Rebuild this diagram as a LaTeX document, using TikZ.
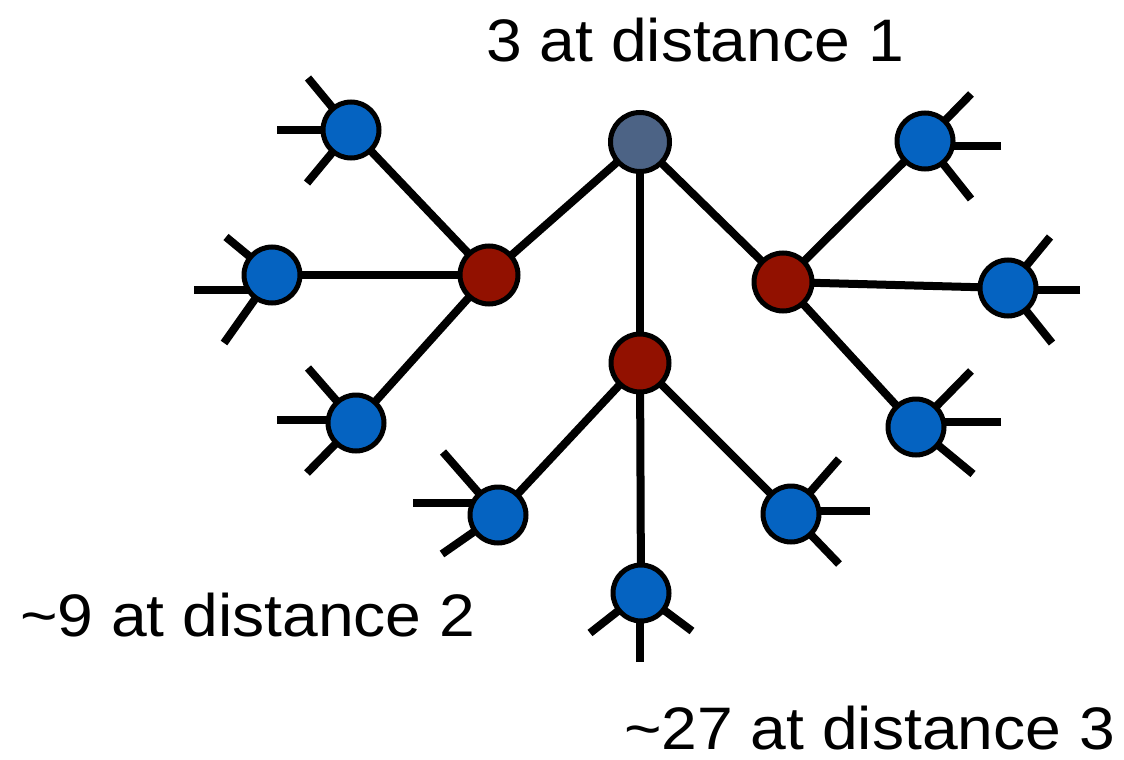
\documentclass[tikz,border=0pt]{standalone}
\usepackage{fontspec}
\setmainfont{Liberation Sans}
\usetikzlibrary{backgrounds}

\definecolor{rootgray}{RGB}{76,99,133}
\definecolor{hopred}{RGB}{146,17,0}
\definecolor{leafblue}{RGB}{5,99,193}

\tikzset{
  vtx/.style={circle, draw=black, line width=5pt, inner sep=0pt},
  rootvtx/.style={vtx, fill=rootgray, minimum size=59pt},
  hopvtx/.style={vtx, fill=hopred, minimum size=58pt},
  leafvtx/.style={vtx, fill=leafblue, minimum size=56pt},
  link/.style={line width=8pt},
  stub/.style={line width=8pt},
  lbl/.style={anchor=base west, inner sep=0pt, xscale=1.07, font=\fontsize{60}{72}\selectfont},
}

\begin{document}
\begin{tikzpicture}[x=1pt,y=1pt,yscale=-1,xscale=1]
\useasboundingbox (0,0) rectangle (1124,760);

%Shape: root, distance 1 and distance 2 vertices
\node[rootvtx] (r) at (640,142) {};
\node[hopvtx] (h1) at (489,275) {};
\node[hopvtx] (h2) at (640,363) {};
\node[hopvtx] (h3) at (783,282) {};
\node[leafvtx] (l1) at (351,130) {};
\node[leafvtx] (l2) at (272,275) {};
\node[leafvtx] (l3) at (356,423) {};
\node[leafvtx] (l4) at (498,515) {};
\node[leafvtx] (l5) at (641,593) {};
\node[leafvtx] (l6) at (791,514) {};
\node[leafvtx] (l7) at (925,141) {};
\node[leafvtx] (l8) at (1008,288) {};
\node[leafvtx] (l9) at (916,427) {};

%free ends of the stubs (u = upper, h = straight, d = lower)
\coordinate (l1u) at (308,78);
\coordinate (l1h) at (277,130);
\coordinate (l1d) at (307,183);
\coordinate (l2u) at (226,237);
\coordinate (l2h) at (194,290);
\coordinate (l2d) at (224,343);
\coordinate (l3u) at (308,368);
\coordinate (l3h) at (277,420);
\coordinate (l3d) at (307,473);
\coordinate (l4u) at (443,452);
\coordinate (l4h) at (413,503);
\coordinate (l4d) at (442,554);
\coordinate (l5u) at (590,633);
\coordinate (l5h) at (640,662);
\coordinate (l5d) at (692,631);
\coordinate (l6u) at (839,459);
\coordinate (l6h) at (870,511);
\coordinate (l6d) at (839,564);
\coordinate (l7u) at (971,94);
\coordinate (l7h) at (1001,146);
\coordinate (l7d) at (971,199);
\coordinate (l8u) at (1050,237);
\coordinate (l8h) at (1080,290);
\coordinate (l8d) at (1052,343);
\coordinate (l9u) at (971,371);
\coordinate (l9h) at (1001,422);
\coordinate (l9d) at (973,474);

\begin{scope}[on background layer]
%Straight Lines: tree edges
\foreach \a/\b in {r/h1,r/h2,r/h3,h1/l1,h1/l2,h1/l3,h2/l4,h2/l5,h2/l6,h3/l7,h3/l8,h3/l9}
  \draw[link] (\a.center) -- (\b.center);
%Straight Lines: stubs
\foreach \l in {l1,l2,l3,l4,l6,l7,l8,l9}{
  \draw[stub] (\l u) -- (\l.center);
  \draw[stub] (\l h) -- (\l h -| \l);
  \draw[stub] (\l d) -- (\l.center);
}
\draw[stub] (l5u) -- (l5.center);
\draw[stub] (l5h) -- (l5h |- l5);
\draw[stub] (l5d) -- (l5.center);
\end{scope}

% Text Node
\node[lbl] (t1) at (486,62) {3 at distance 1};
% Text Node
\node[lbl] (t2) at (20,636) {\textasciitilde9 at distance 2};
% Text Node
\node[lbl] (t3) at (624,749) {\textasciitilde27 at distance 3};

\end{tikzpicture}
\end{document}
